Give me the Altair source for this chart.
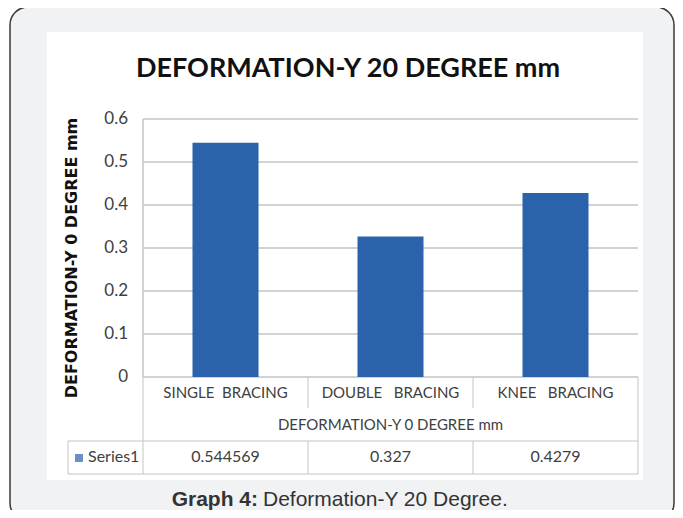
import altair as alt
import pandas as pd

# ---- data ----
categories = ["SINGLE\u00a0\u00a0BRACING", "DOUBLE\u00a0\u00a0\u00a0BRACING", "KNEE\u00a0\u00a0\u00a0BRACING"]
values = [0.544569, 0.327, 0.4279]
value_labels = ["0.544569", "0.327", "0.4279"]
y_ticks = [0, 0.1, 0.2, 0.3, 0.4, 0.5, 0.6]
series_name = "Series1"
chart_title = "DEFORMATION-Y 20 DEGREE mm"
y_title = "DEFORMATION-Y 0 DEGREE mm"
x_title = "DEFORMATION-Y 0 DEGREE mm"
caption_bold = "Graph 4:"
caption_rest = "Deformation-Y 20 Degree."

df = pd.DataFrame({"cat": categories, "value": values, "label": value_labels})
ticks_df = pd.DataFrame({"tick": y_ticks})
one = pd.DataFrame({"k": [0]})

W, H = 495, 258
BAR = "#2a62ab"
LINE = "#c4c4c4"
TXT = "#404040"
FONT = "Lato"

xscale = alt.Scale(domain=categories, paddingInner=0.6, paddingOuter=0.3)
yscale = alt.Scale(domain=[0, 0.6])

frame = alt.Chart(one).mark_rect(cornerRadius=18, fill="#f1f2f4", stroke="#3a3a3a", strokeWidth=1.5).encode(
    x=alt.value(-133), x2=alt.value(531), y=alt.value(-112), y2=alt.value(402))
white = alt.Chart(one).mark_rect(fill="white").encode(
    x=alt.value(-96), x2=alt.value(500), y=alt.value(-87), y2=alt.value(361))

grid = alt.Chart(ticks_df).mark_rule(color=LINE, strokeWidth=1.5).encode(
    y=alt.Y("tick:Q", scale=yscale, axis=None), x=alt.value(0), x2=alt.value(W))

y_labels = alt.Chart(ticks_df).mark_text(font=FONT, fontSize=17, color=TXT, align="right", baseline="middle").encode(
    y=alt.Y("tick:Q", scale=yscale, axis=None), x=alt.value(-15), text=alt.Text("tick:Q", format="~f"))

bars = alt.Chart(df).mark_bar(color=BAR).encode(
    x=alt.X("cat:N", scale=xscale, axis=None, sort=categories),
    y=alt.Y("value:Q", scale=yscale, axis=None),
)

def vrule(x, y1, y2, w=1):
    return alt.Chart(one).mark_rule(color=LINE, strokeWidth=w).encode(
        x=alt.value(x), y=alt.value(y1), y2=alt.value(y2))

def hrule(y, x1, x2):
    return alt.Chart(one).mark_rule(color=LINE, strokeWidth=1).encode(
        y=alt.value(y), x=alt.value(x1), x2=alt.value(x2))

table = [
    vrule(0, 0, 258, 1.5),
    vrule(0, 258, 355), vrule(W, 258, 355),
    vrule(165, 258, 289), vrule(330, 258, 289),
    vrule(165, 322, 355), vrule(330, 322, 355),
    vrule(-75, 322, 355),
    hrule(322, -75, W), hrule(355, -75, W),
]

cat_labels = alt.Chart(df).mark_text(font=FONT, fontSize=15, color=TXT, baseline="middle").encode(
    x=alt.X("cat:N", scale=xscale, axis=None, sort=categories), y=alt.value(274), text="cat:N")
val_labels = alt.Chart(df).mark_text(font=FONT, fontSize=16, color=TXT, baseline="middle").encode(
    x=alt.X("cat:N", scale=xscale, axis=None, sort=categories), y=alt.value(338), text="label:N")

def txt(s, x, y, **kw):
    return alt.Chart(one).mark_text(baseline="middle", **kw).encode(
        x=alt.value(x), y=alt.value(y), text=alt.value(s))

texts = [
    txt(chart_title, 205, -50, font=FONT, fontSize=27, fontWeight="bold", color="#111111"),
    txt(y_title, -71, 139, font="DejaVu Sans", fontSize=16, fontWeight="bold", color="#111111", angle=270),
    txt(x_title, 247.5, 306, font=FONT, fontSize=15, color=TXT),
    txt(series_name, -55, 338, font=FONT, fontSize=16, color=TXT, align="left"),
    txt(caption_bold, 115, 381, font="Liberation Sans", fontSize=21, fontWeight="bold", color="#333333", align="right"),
    txt(caption_rest, 120, 381, font="Liberation Sans", fontSize=21, color="#333333", align="left"),
]

legend_sq = alt.Chart(one).mark_square(size=64, color=BAR).encode(x=alt.value(-64), y=alt.value(339))

chart = alt.layer(frame, white, grid, bars, *table, y_labels, cat_labels, val_labels, legend_sq, *texts).properties(
    width=W, height=H,
    autosize=alt.AutoSizeParams(type="none"),
    padding={"left": 135, "top": 111, "right": 37, "bottom": 133},
).configure_view(stroke=None)

chart.save("out.html", embed_options={"renderer": "svg", "actions": False})
